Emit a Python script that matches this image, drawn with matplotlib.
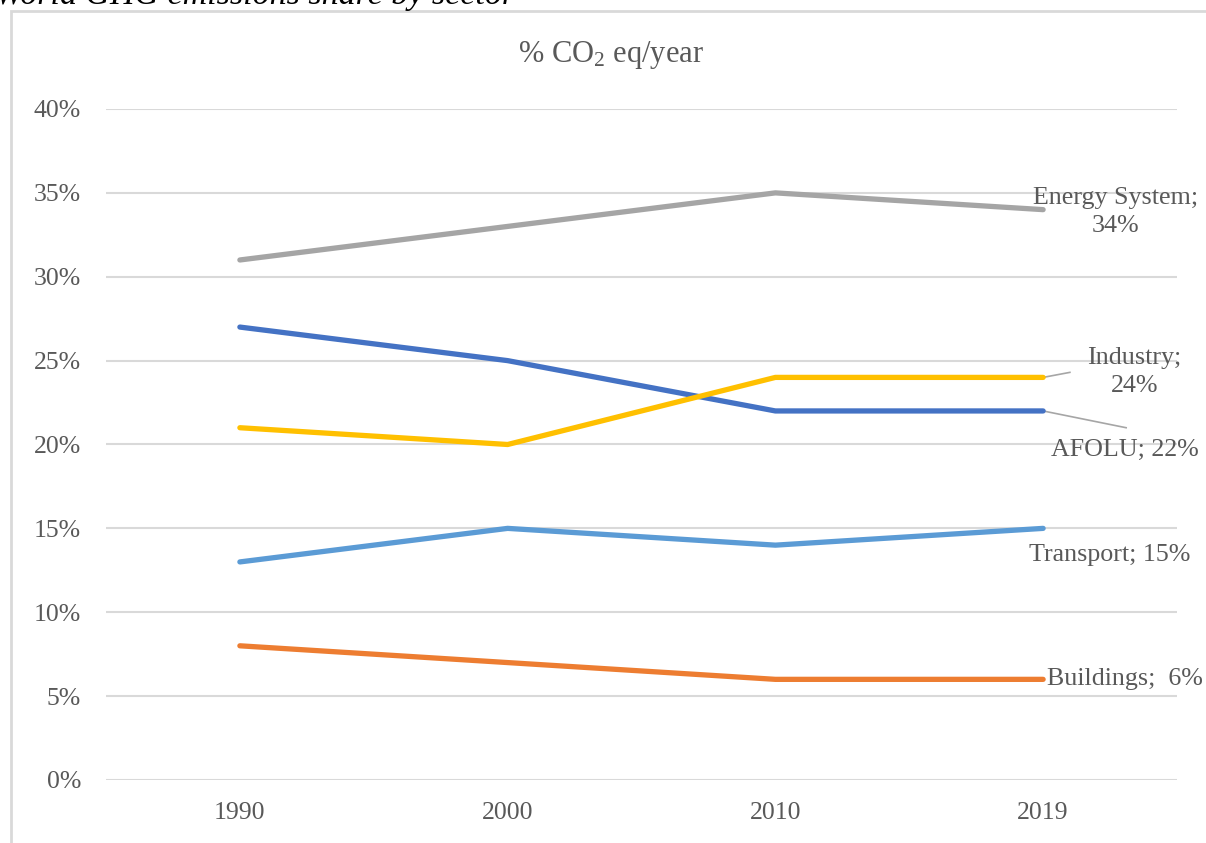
import matplotlib
matplotlib.use('Agg')
import matplotlib.pyplot as plt
from matplotlib.patches import Rectangle

plt.rcParams['font.family'] = ['Liberation Serif', 'DejaVu Serif']
plt.rcParams['mathtext.fontset'] = 'custom'
plt.rcParams['mathtext.rm'] = 'Liberation Serif'
plt.rcParams['mathtext.it'] = 'Liberation Serif:italic'

years = ['1990', '2000', '2010', '2019']
energy = [31, 33, 35, 34]
afolu = [27, 25, 22, 22]
industry = [21, 20, 24, 24]
transport = [13, 15, 14, 15]
buildings = [8, 7, 6, 6]

series = [
    ('Energy System', energy, '#A5A5A5'),
    ('AFOLU', afolu, '#4472C4'),
    ('Industry', industry, '#FFC000'),
    ('Transport', transport, '#5B9BD5'),
    ('Buildings', buildings, '#ED7D31'),
]

text_color = '#595959'
W, H = 1206, 843
fig = plt.figure(figsize=(W / 100, H / 100), dpi=100)
fig.patch.set_facecolor('white')

# plot area in pixel coordinates
left, right, top, bottom = 106, 1177, 109, 780
ax = fig.add_axes([left / W, 1 - bottom / H, (right - left) / W, (bottom - top) / H])

x = list(range(len(years)))
for name, vals, color in series:
    ax.plot(x, vals, color=color, linewidth=3.8, solid_capstyle='round', zorder=3)

ax.set_xlim(-0.5, len(years) - 0.5)
ax.set_ylim(0, 40)
ax.set_yticks(range(0, 41, 5))
ax.set_yticklabels([f'{v}%' for v in range(0, 41, 5)])
ax.set_xticks(x)
ax.set_xticklabels(years)
ax.grid(axis='y', color='#D9D9D9', linewidth=1.5, zorder=0)
ax.tick_params(length=0, labelsize=18.5, labelcolor=text_color)
ax.tick_params(axis='y', pad=18)
ax.tick_params(axis='x', pad=16)
for s in ax.spines.values():
    s.set_visible(False)

# data labels at the last point
last = len(years) - 1
lab = dict(fontsize=18.7, color=text_color, zorder=4)
ax.text(3.27, energy[last] - 0.14, f'Energy System;\n{energy[last]}%',
        ha='center', va='center', linespacing=1.35, **lab)
ax.text(3.34, industry[last] + 0.32, f'Industry;\n{industry[last]}%',
        ha='center', va='center', linespacing=1.35, **lab)
ax.text(3.305, afolu[last] - 2.3, f'AFOLU; {afolu[last]}%', ha='center', va='center', **lab)
ax.text(3.25, transport[last] - 1.6, f'Transport; {transport[last]}%', ha='center', va='center', **lab)
ax.text(3.015, buildings[last], f'Buildings;  {buildings[last]}%', ha='left', va='center', **lab)

# leader lines for the two crowded labels
ax.plot([last, last + 0.1], [industry[last], industry[last] + 0.3], color='#A6A6A6', linewidth=1.2, zorder=2)
ax.plot([last, last + 0.31], [afolu[last], afolu[last] - 1.0], color='#A6A6A6', linewidth=1.2, zorder=2)

fig.text(611 / W, 1 - 55 / H, r'% CO$_\mathrm{2}$ eq/year', ha='center', va='center',
         fontsize=22, color=text_color)

# chart frame
fig.patches.append(Rectangle((11 / W, -0.01), 1.02, 1 - 11 / H + 0.01, transform=fig.transFigure,
                             fill=False, edgecolor='#D9D9D9', linewidth=2))

# caption above the frame, partly cut off at the top edge
fig.text(-0.004, 1 - 4 / H, 'World GHG emissions share by sector', ha='left', va='baseline',
         fontsize=24.5, style='italic', color='black')

fig.savefig('out.png', dpi=100)
